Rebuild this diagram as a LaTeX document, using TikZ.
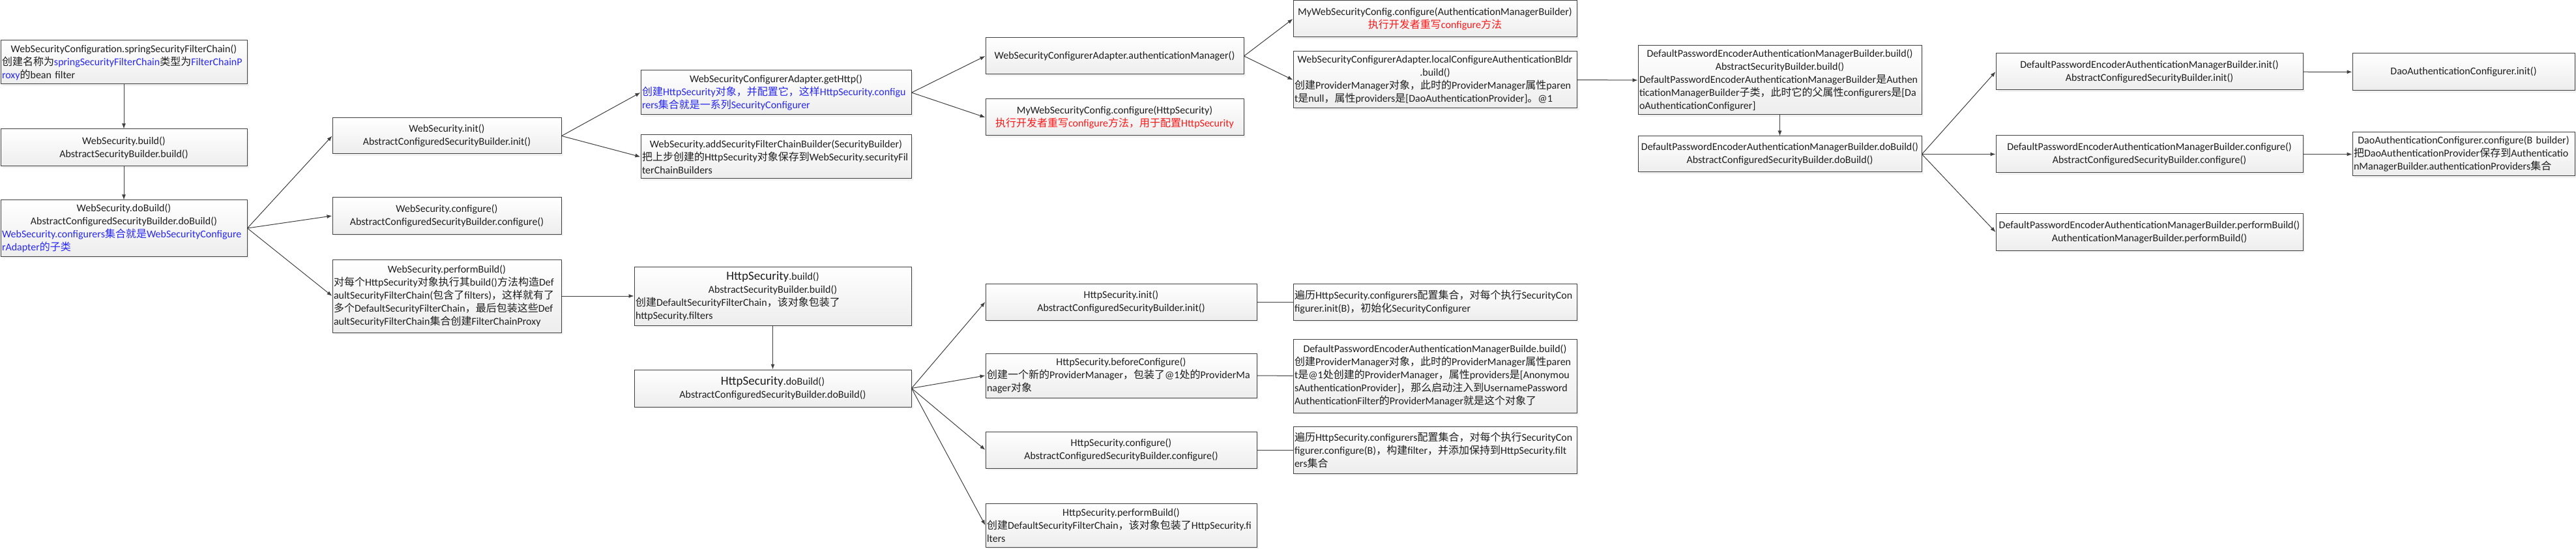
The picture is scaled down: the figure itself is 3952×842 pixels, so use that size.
\documentclass[tikz,border=0pt]{standalone}
\usepackage{fontspec}
\usepackage{xcolor}
\setmainfont{Carlito}
\newfontfamily\zhfont{Noto Sans CJK SC}
\usetikzlibrary{arrows.meta, shadows}

\definecolor{inkgray}{RGB}{30,30,30}
\definecolor{linegray}{RGB}{64,64,64}
\definecolor{noteblue}{RGB}{40,40,240}
\definecolor{notered}{RGB}{250,25,25}

\newcommand{\zh}[1]{{\zhfont #1}}
\newcommand{\bl}[1]{\textcolor{noteblue}{#1}}
\newcommand{\rd}[1]{\textcolor{notered}{#1}}
\newcommand{\lft}[1]{\makebox[\linewidth][l]{#1}}
\newcommand{\bigcls}[1]{{\fontsize{19}{20}\selectfont #1}}

\tikzset{
  blk/.style 2 args={draw=linegray, line width=1pt, top color=white, bottom color=black!7,
    drop shadow={shadow xshift=3pt, shadow yshift=-3pt, opacity=.12, fill=black!40},
    font=\fontsize{16}{20}\selectfont, text=inkgray, align=center,
    inner xsep=2pt, inner ysep=0pt, minimum width=#1, text width=#1-4pt, minimum height=#2},
  arr/.style={draw=linegray, line width=1pt, -{Latex[length=8pt, width=6pt]}},
  lnk/.style={draw=linegray, line width=1pt},
}

\begin{document}
\begin{tikzpicture}[x=1pt, y=-1pt]
        \path[fill=white, use as bounding box] (0,0) rectangle (3952,842);
        % WebSecurity
        \node[blk={378pt}{67pt}] (cfg) at (190, 95.5) {WebSecurityConfiguration.springSecurityFilterChain()\\
            \lft{\zh{创建名称为}\bl{springSecurityFilterChain}\zh{类型为}\bl{FilterChainP}}\\
            \lft{\bl{roxy}\zh{的}bean filter}};
        \node[blk={378pt}{57pt}] (wsbuild) at (190, 226.5) {WebSecurity.build()\\AbstractSecurityBuilder.build()};
        \node[blk={378pt}{86pt}] (wsdobuild) at (190, 350) {WebSecurity.doBuild()\\AbstractConfiguredSecurityBuilder.doBuild()\\
            \lft{\bl{WebSecurity.configurers\zh{集合就是}WebSecurityConfigure}}\\
            \lft{\bl{rAdapter\zh{的子类}}}};
        \node[blk={351pt}{55pt}] (wsinit) at (685.5, 208.5) {WebSecurity.init()\\AbstractConfiguredSecurityBuilder.init()};
        \node[blk={351pt}{56pt}] (wsconf) at (685.5, 331) {WebSecurity.configure()\\AbstractConfiguredSecurityBuilder.configure()};
        \node[blk={351pt}{112pt}] (wsperf) at (685.5, 454) {WebSecurity.performBuild()\\
            \lft{\zh{对每个}HttpSecurity\zh{对象执行其}build()\zh{方法构造}Def}\\
            \lft{aultSecurityFilterChain(\zh{包含了}filters)\zh{，这样就有了}}\\
            \lft{\zh{多个}DefaultSecurityFilterChain\zh{，最后包装这些}Def}\\
            \lft{aultSecurityFilterChain\zh{集合创建}FilterChainProxy}};
        \node[blk={415pt}{68pt}] (gethttp) at (1190.5, 142) {WebSecurityConfigurerAdapter.getHttp()\\
            \lft{\bl{\zh{创建}HttpSecurity\zh{对象，并配置它，这样}HttpSecurity.configu}}\\
            \lft{\bl{rers\zh{集合就是一系列}SecurityConfigurer}}};
        \node[blk={415pt}{67pt}] (addsfcb) at (1190.5, 240.5) {WebSecurity.addSecurityFilterChainBuilder(SecurityBuilder)\\
            \lft{\zh{把上步创建的}HttpSecurity\zh{对象保存到}WebSecurity.securityFil}\\
            \lft{terChainBuilders}};
        % HttpSecurity
        \node[blk={425pt}{90pt}] (hsbuild) at (1185.5, 454) {\bigcls{HttpSecurity}.build()\\AbstractSecurityBuilder.build()\\
            \lft{\zh{创建}DefaultSecurityFilterChain\zh{，该对象包装了}}\\
            \lft{httpSecurity.filters}};
        \node[blk={425pt}{57pt}] (hsdobuild) at (1185.5, 595.5) {\bigcls{HttpSecurity}.doBuild()\\AbstractConfiguredSecurityBuilder.doBuild()};
        \node[blk={396pt}{56pt}] (authmgr) at (1710, 86) {WebSecurityConfigurerAdapter.authenticationManager()};
        \node[blk={396pt}{56pt}] (myhttp) at (1710, 180) {MyWebSecurityConfig.configure(HttpSecurity)\\
            \rd{\zh{执行开发者重写}configure\zh{方法，用于配置}HttpSecurity}};
        \node[blk={416pt}{56pt}] (hsinit) at (1720, 463) {HttpSecurity.init()\\AbstractConfiguredSecurityBuilder.init()};
        \node[blk={416pt}{68pt}] (hsbefore) at (1720, 576) {HttpSecurity.beforeConfigure()\\
            \lft{\zh{创建一个新的}ProviderManager\zh{，包装了}@1\zh{处的}ProviderMa}\\
            \lft{nager\zh{对象}}};
        \node[blk={416pt}{56pt}] (hsconf) at (1720, 690) {HttpSecurity.configure()\\AbstractConfiguredSecurityBuilder.configure()};
        \node[blk={416pt}{67pt}] (hsperf) at (1720, 805.5) {HttpSecurity.performBuild()\\
            \lft{\zh{创建}DefaultSecurityFilterChain\zh{，该对象包装了}HttpSecurity.fi}\\
            \lft{lters}};
        % AuthenticationManagerBuilder
        \node[blk={435pt}{56pt}] (myauth) at (2201.5, 29) {MyWebSecurityConfig.configure(AuthenticationManagerBuilder)\\
            \rd{\zh{执行开发者重写}configure\zh{方法}}};
        \node[blk={435pt}{87pt}] (localcfg) at (2201.5, 122.5) {WebSecurityConfigurerAdapter.localConfigureAuthenticationBldr\\.build()\\
            \lft{\zh{创建}ProviderManager\zh{对象，此时的}ProviderManager\zh{属性}paren}\\
            \lft{t\zh{是}null\zh{，属性}providers\zh{是}[DaoAuthenticationProvider]\zh{。}@1}};
        \node[blk={435pt}{56pt}] (cfginit) at (2201.5, 463) {\lft{\zh{遍历}HttpSecurity.configurers\zh{配置集合，对每个执行}SecurityCon}\\
            \lft{figurer.init(B)\zh{，初始化}SecurityConfigurer}};
        \node[blk={435pt}{113pt}] (dpbuild) at (2201.5, 576.5) {DefaultPasswordEncoderAuthenticationManagerBuilde.build()\\
            \lft{\zh{创建}ProviderManager\zh{对象，此时的}ProviderManager\zh{属性}paren}\\
            \lft{t\zh{是}@1\zh{处创建的}ProviderManager\zh{，属性}providers\zh{是}[Anonymou}\\
            \lft{sAuthenticationProvider]\zh{，那么启动注入到}UsernamePassword}\\
            \lft{AuthenticationFilter\zh{的}ProviderManager\zh{就是这个对象了}}};
        \node[blk={435pt}{72pt}] (cfgconf) at (2201.5, 690) {\lft{\zh{遍历}HttpSecurity.configurers\zh{配置集合，对每个执行}SecurityCon}\\
            \lft{figurer.configure(B)\zh{，构建}filter\zh{，并添加保持到}HttpSecurity.filt}\\
            \lft{ers\zh{集合}}};
        \node[blk={435pt}{106pt}] (ambuild) at (2730.5, 123) {DefaultPasswordEncoderAuthenticationManagerBuilder.build()\\AbstractSecurityBuilder.build()\\
            \lft{DefaultPasswordEncoderAuthenticationManagerBuilder\zh{是}Authen}\\
            \lft{ticationManagerBuilder\zh{子类，此时它的父属性}configurers\zh{是}[Da}\\
            \lft{oAuthenticationConfigurer]}};
        \node[blk={435pt}{55pt}] (amdobuild) at (2730.5, 236.5) {DefaultPasswordEncoderAuthenticationManagerBuilder.doBuild()\\AbstractConfiguredSecurityBuilder.doBuild()};
        \node[blk={471pt}{56pt}] (aminit) at (3297.5, 110) {DefaultPasswordEncoderAuthenticationManagerBuilder.init()\\AbstractConfiguredSecurityBuilder.init()};
        \node[blk={471pt}{57pt}] (amconf) at (3297.5, 236.5) {DefaultPasswordEncoderAuthenticationManagerBuilder.configure()\\AbstractConfiguredSecurityBuilder.configure()};
        \node[blk={471pt}{56pt}] (amperf) at (3297.5, 356) {DefaultPasswordEncoderAuthenticationManagerBuilder.performBuild()\\AuthenticationManagerBuilder.performBuild()};
        \node[blk={341pt}{57pt}] (daoinit) at (3779.5, 110.5) {DaoAuthenticationConfigurer.init()};
        \node[blk={341pt}{67pt}] (daoconf) at (3779.5, 236.5) {DaoAuthenticationConfigurer.configure(B builder)\\
            \lft{\zh{把}DaoAuthenticationProvider\zh{保存到}Authenticatio}\\
            \lft{nManagerBuilder.authenticationProviders\zh{集合}}};

        \draw[arr] (cfg) -- (wsbuild);
        \draw[arr] (wsbuild) -- (wsdobuild);
        \draw[arr] (wsdobuild.east) -- (wsinit.west);
        \draw[arr] (wsdobuild.east) -- (wsconf.west);
        \draw[arr] (wsdobuild.east) -- (wsperf.west);
        \draw[arr] (wsinit.east) -- (gethttp.west);
        \draw[arr] (wsinit.east) -- (addsfcb.west);
        \draw[arr] (wsperf.east) -- (hsbuild.west);
        \draw[arr] (gethttp.east) -- (authmgr.west);
        \draw[arr] (gethttp.east) -- (myhttp.west);
        \draw[arr] (authmgr.east) -- (myauth.west);
        \draw[arr] (authmgr.east) -- (localcfg.west);
        \draw[arr] (localcfg.east) -- (ambuild.west);
        \draw[arr] (ambuild) -- (amdobuild);
        \draw[arr] (amdobuild.east) -- (aminit.west);
        \draw[arr] (amdobuild.east) -- (amconf.west);
        \draw[arr] (amdobuild.east) -- (amperf.west);
        \draw[arr] (aminit) -- (daoinit);
        \draw[arr] (amconf) -- (daoconf);
        \draw[arr] (hsbuild) -- (hsdobuild);
        \draw[arr] (hsdobuild.east) -- (hsinit.west);
        \draw[arr] (hsdobuild.east) -- (hsbefore.west);
        \draw[arr] (hsdobuild.east) -- (hsconf.west);
        \draw[arr] (hsdobuild.east) -- (hsperf.west);
        \draw[lnk] (hsinit) -- (cfginit);
        \draw[lnk] (hsbefore) -- (dpbuild);
        \draw[lnk] (hsconf) -- (cfgconf);
\end{tikzpicture}
\end{document}
